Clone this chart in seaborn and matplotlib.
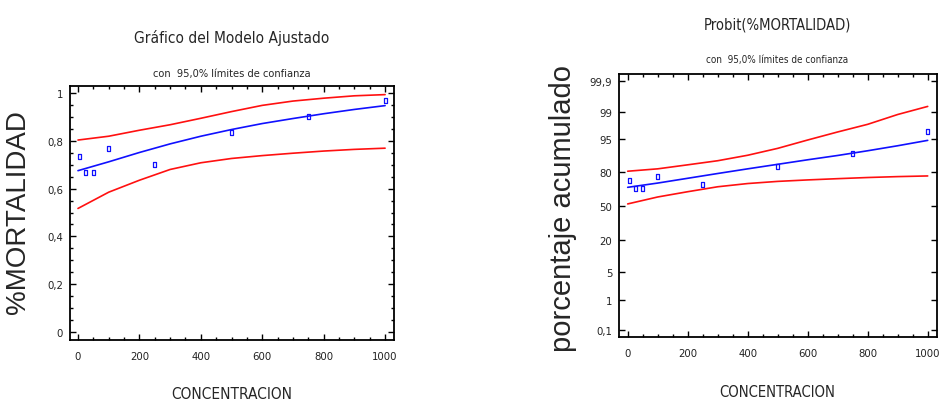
import statistics
import numpy as np
import pandas as pd
import matplotlib
matplotlib.use("Agg")
import matplotlib.pyplot as plt
import seaborn as sns
from matplotlib import font_manager
from matplotlib.font_manager import FontProperties
from matplotlib.ticker import MultipleLocator, FixedLocator, NullLocator

# data
conc_obs = [5, 25, 50, 100, 250, 500, 750, 1000]
mort_obs = [0.733, 0.667, 0.667, 0.767, 0.700, 0.833, 0.900, 0.967]

conc_fit = [0, 100, 200, 300, 400, 500, 600, 700, 800, 900, 1000]
mort_fit = [0.675, 0.712, 0.751, 0.787, 0.819, 0.847, 0.872, 0.893, 0.913, 0.931, 0.947]
mort_upper = [0.803, 0.819, 0.844, 0.867, 0.894, 0.922, 0.948, 0.966, 0.978, 0.988, 0.993]
mort_lower = [0.517, 0.585, 0.635, 0.680, 0.708, 0.726, 0.738, 0.748, 0.757, 0.764, 0.769]

left_yticks = [0, 0.2, 0.4, 0.6, 0.8, 1.0]
left_ylabels = ["0", "0,2", "0,4", "0,6", "0,8", "1"]
probit_ticks = [0.1, 1, 5, 20, 50, 80, 95, 99, 99.9]
probit_labels = ["0,1", "1", "5", "20", "50", "80", "95", "99", "99,9"]
xticks = [0, 200, 400, 600, 800, 1000]

df_obs = pd.DataFrame({"conc": conc_obs, "mort": mort_obs})
df_obs["pct"] = df_obs["mort"] * 100
df_fit = pd.DataFrame({"conc": conc_fit, "fit": mort_fit, "up": mort_upper, "lo": mort_lower})
for c in ["fit", "up", "lo"]:
    df_fit[c + "_pct"] = df_fit[c] * 100

# narrow font for the squeezed-looking text
names = {f.name for f in font_manager.fontManager.ttflist}
if "Liberation Sans Narrow" in names:
    narrow = FontProperties(family="Liberation Sans Narrow"); k = 1.0
elif any(f.name == "DejaVu Sans" and str(f.stretch) != "normal" for f in font_manager.fontManager.ttflist):
    narrow = FontProperties(family="DejaVu Sans", stretch="condensed"); k = 0.85
else:
    narrow = FontProperties(family="Liberation Sans"); k = 0.82

def nf(size):
    fp = narrow.copy()
    fp.set_size(size * k)
    return fp

nd = statistics.NormalDist()
def probit(y):
    p = np.clip(np.asarray(y, dtype=float) / 100.0, 1e-9, 1 - 1e-9)
    return np.vectorize(nd.inv_cdf, otypes=[float])(p)
def inv_probit(z):
    return 100.0 * np.vectorize(nd.cdf, otypes=[float])(np.asarray(z, dtype=float))

sns.set_style("white")
plt.rcParams["font.family"] = ["Liberation Sans", "DejaVu Sans"]

W, H = 939, 406
fig = plt.figure(figsize=(W / 100, H / 100), dpi=100)
ax1 = fig.add_axes([70 / W, 1 - 341 / H, 324 / W, 254 / H])
ax2 = fig.add_axes([619.3 / W, 1 - 338.3 / H, 317.4 / W, 263.3 / H])

rect = [(-0.6, -1), (0.6, -1), (0.6, 1), (-0.6, 1), (-0.6, -1)]

# left: fitted model
sns.lineplot(data=df_fit, x="conc", y="up", color="#ff1010", lw=1.2, ax=ax1)
sns.lineplot(data=df_fit, x="conc", y="lo", color="#ff1010", lw=1.2, ax=ax1)
sns.lineplot(data=df_fit, x="conc", y="fit", color="#1010ff", lw=1.2, ax=ax1)
sns.scatterplot(data=df_obs, x="conc", y="mort", marker=rect, s=14,
                facecolor="none", edgecolor="#1010ff", linewidth=0.9, ax=ax1)
ax1.set_xlim(-26, 1029)
ax1.set_ylim(-0.033, 1.029)
ax1.set_yticks(left_yticks)
ax1.set_yticklabels(left_ylabels)
ax1.yaxis.set_minor_locator(MultipleLocator(0.05))

# right: probit
ax2.set_yscale("function", functions=(probit, inv_probit))
sns.lineplot(data=df_fit, x="conc", y="up_pct", color="#ff1010", lw=1.2, ax=ax2)
sns.lineplot(data=df_fit, x="conc", y="lo_pct", color="#ff1010", lw=1.2, ax=ax2)
sns.lineplot(data=df_fit, x="conc", y="fit_pct", color="#1010ff", lw=1.2, ax=ax2)
sns.scatterplot(data=df_obs, x="conc", y="pct", marker=rect, s=14,
                facecolor="none", edgecolor="#1010ff", linewidth=0.9, ax=ax2)
ax2.set_xlim(-28, 1030)
ax2.set_ylim(inv_probit(-3.26), inv_probit(3.26))
ax2.yaxis.set_major_locator(FixedLocator(probit_ticks))
ax2.set_yticklabels(probit_labels)
ax2.yaxis.set_minor_locator(NullLocator())

for ax in (ax1, ax2):
    ax.set_xticks(xticks)
    ax.xaxis.set_minor_locator(MultipleLocator(50))
    ax.set_xlabel("")
    ax.set_ylabel("")
    for s in ax.spines.values():
        s.set_visible(True)
        s.set_color("black")
        s.set_linewidth(1.3)
    ax.tick_params(which="both", direction="in", top=True, right=True, bottom=True, left=True,
                   colors="black", width=1)
    ax.tick_params(which="major", length=4.5)
    ax.tick_params(which="minor", length=2.3)
    ax.tick_params(axis="x", pad=8)
    ax.tick_params(axis="y", pad=5)
    for lab in ax.get_xticklabels() + ax.get_yticklabels():
        lab.set_fontproperties(nf(9.5))
        lab.set_color("#222222")
    leg = ax.get_legend()
    if leg:
        leg.remove()

# titles and labels
fig.text(232 / W, 1 - 37.7 / H, "Gráfico del Modelo Ajustado", ha="center", va="center",
         fontproperties=nf(13))
fig.text(232 / W, 1 - 74 / H, "con  95,0% límites de confianza", ha="center", va="center",
         fontproperties=nf(9.3))
fig.text(232 / W, 1 - 395 / H, "CONCENTRACION", ha="center", va="center",
         fontproperties=nf(13))
fig.text(18 / W, 1 - 212 / H, "%MORTALIDAD", ha="center", va="center", rotation=90,
         fontsize=20)

fig.text(777 / W, 1 - 24.5 / H, "Probit(%MORTALIDAD)", ha="center", va="center",
         fontproperties=nf(12.5))
fig.text(777 / W, 1 - 60 / H, "con  95,0% límites de confianza", ha="center", va="center",
         fontproperties=nf(8.4))
fig.text(777 / W, 1 - 393 / H, "CONCENTRACION", ha="center", va="center",
         fontproperties=nf(12.5))
fig.text(563 / W, 1 - 208.5 / H, "porcentaje acumulado", ha="center", va="center", rotation=90,
         fontsize=21)

fig.savefig("out.png", dpi=100, facecolor="white")
